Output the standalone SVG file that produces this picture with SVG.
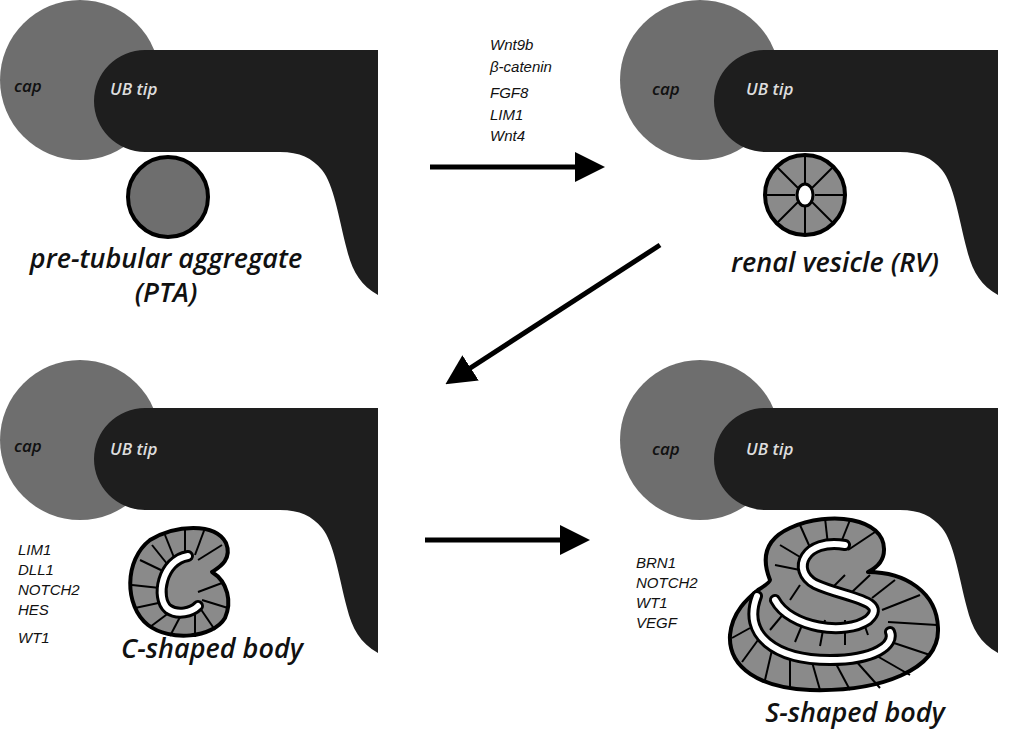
<svg xmlns="http://www.w3.org/2000/svg" width="1024" height="734" viewBox="0 0 1024 734">
<defs>
<style>
.cap{fill:#6e6e6e}
.ub{fill:#1e1e1e}
.t{font-family:"Liberation Sans",Arial,sans-serif;font-style:italic}
.h{font-family:"Open Sans","Liberation Sans",sans-serif;font-style:italic;font-weight:600}
.capt{font-size:17px;fill:#111}
.ubt{font-size:17px;fill:#ddd}
.big{font-size:27px;fill:#111;text-anchor:middle}
.gene{font-size:15px;fill:#111}
.body{fill:#8a8a8a;stroke:#000;stroke-width:4;stroke-linejoin:round}
.sp{stroke:#000;stroke-width:2;fill:none}
.lo{fill:none;stroke:#000;stroke-width:12;stroke-linecap:round}
.li{fill:none;stroke:#fff;stroke-width:6;stroke-linecap:round}
.arr{stroke:#000;stroke-width:5;fill:none}
</style>
<path id="ub" d="M145,50 L378,50 L378,295 C360,285 352,270 347,250 C338,215 334,185 322,170 C312,158 300,152 280,152 L145,152 A51 51 0 0 1 145,50 Z"/>
<marker id="ah" markerWidth="6" markerHeight="6" refX="3" refY="3" orient="auto" markerUnits="strokeWidth"><path d="M0,0 L6,3 L0,6 Z" fill="#000"/></marker>
</defs>
<g id="panel-pta">
<circle class="cap" cx="80" cy="80" r="80"/>
<use href="#ub" class="ub"/>
<text class="h capt" x="14" y="92">cap</text>
<text class="h ubt" x="110" y="95">UB tip</text>
<circle cx="168" cy="197" r="40" fill="#6e6e6e" stroke="#000" stroke-width="4"/>
<text class="h big" x="166" y="268">pre-tubular aggregate</text>
<text class="h big" x="166" y="302">(PTA)</text>
</g>
<g id="panel-rv">
<circle class="cap" cx="700" cy="80" r="80"/>
<use href="#ub" class="ub" transform="translate(620,0)"/>
<text class="h capt" x="652" y="95">cap</text>
<text class="h ubt" x="746" y="95">UB tip</text>
<circle cx="805" cy="195" r="40" fill="#8a8a8a" stroke="#000" stroke-width="4"/>
<g class="sp">
<line x1="805" y1="155" x2="805" y2="185"/><line x1="805" y1="205" x2="805" y2="235"/>
<line x1="765" y1="195" x2="795" y2="195"/><line x1="815" y1="195" x2="845" y2="195"/>
<line x1="777" y1="167" x2="798" y2="188"/><line x1="833" y1="223" x2="812" y2="202"/>
<line x1="833" y1="167" x2="812" y2="188"/><line x1="777" y1="223" x2="798" y2="202"/>
</g>
<ellipse cx="805" cy="195" rx="8" ry="11" fill="#fff" stroke="#000" stroke-width="3"/>
<text class="h big" x="835" y="272">renal vesicle (RV)</text>
</g>
<g id="panel-c">
<circle class="cap" cx="80" cy="440" r="80"/>
<use href="#ub" class="ub" transform="translate(0,358)"/>
<text class="h capt" x="14" y="452">cap</text>
<text class="h ubt" x="110" y="455">UB tip</text>
<path class="body" d="M150,540 C175,525 215,522 226,543 C233,560 218,568 212,572 C228,582 232,602 225,618 C213,638 170,642 148,625 C124,606 124,560 150,540 Z"/>
<g class="sp">
<line x1="140" y1="560" x2="165" y2="572"/><line x1="132" y1="585" x2="160" y2="588"/><line x1="135" y1="608" x2="163" y2="602"/>
<line x1="150" y1="627" x2="170" y2="612"/><line x1="170" y1="636" x2="180" y2="617"/><line x1="195" y1="637" x2="195" y2="615"/>
<line x1="215" y1="630" x2="200" y2="608"/><line x1="228" y1="608" x2="202" y2="600"/><line x1="222" y1="583" x2="198" y2="592"/>
<line x1="165" y1="535" x2="175" y2="560"/><line x1="185" y1="528" x2="185" y2="556"/><line x1="205" y1="528" x2="195" y2="555"/>
<line x1="222" y1="545" x2="198" y2="560"/><line x1="152" y1="545" x2="168" y2="565"/>
</g>
<path class="lo" d="M188,556 C162,560 155,598 168,609 C178,616 192,612 198,606"/>
<path class="li" d="M188,556 C162,560 155,598 168,609 C178,616 192,612 198,606"/>
<text class="h big" x="212" y="658">C-shaped body</text>
<text class="t gene" x="18" y="555">LIM1</text>
<text class="t gene" x="18" y="575">DLL1</text>
<text class="t gene" x="18" y="595">NOTCH2</text>
<text class="t gene" x="18" y="615">HES</text>
<text class="t gene" x="18" y="643">WT1</text>
</g>
<g id="panel-s">
<circle class="cap" cx="700" cy="440" r="80"/>
<use href="#ub" class="ub" transform="translate(620,358)"/>
<text class="h capt" x="652" y="455">cap</text>
<text class="h ubt" x="746" y="455">UB tip</text>
<path class="body" d="M790,528 C830,510 885,518 884,550 C884,562 876,568 868,572 C905,572 937,592 938,628 C940,670 880,692 810,690 C760,688 728,668 730,635 C732,612 748,598 758,590 C766,585 770,582 770,580 C760,555 768,538 790,528 Z"/>
<g class="sp">
<line x1="780" y1="545" x2="805" y2="560"/><line x1="775" y1="565" x2="800" y2="570"/>
<line x1="800" y1="525" x2="812" y2="552"/><line x1="825" y1="518" x2="828" y2="545"/><line x1="850" y1="520" x2="840" y2="545"/><line x1="875" y1="532" x2="848" y2="550"/>
<line x1="845" y1="575" x2="830" y2="590"/><line x1="870" y1="575" x2="852" y2="592"/><line x1="895" y1="580" x2="872" y2="598"/><line x1="920" y1="595" x2="882" y2="610"/><line x1="937" y1="625" x2="888" y2="622"/>
<line x1="930" y1="655" x2="885" y2="640"/><line x1="910" y1="675" x2="870" y2="652"/><line x1="880" y1="688" x2="855" y2="660"/>
<line x1="850" y1="690" x2="835" y2="662"/><line x1="820" y1="690" x2="812" y2="662"/><line x1="790" y1="688" x2="790" y2="657"/><line x1="765" y1="680" x2="772" y2="650"/><line x1="742" y1="662" x2="758" y2="640"/><line x1="732" y1="638" x2="750" y2="628"/>
<line x1="770" y1="630" x2="785" y2="612"/><line x1="795" y1="642" x2="805" y2="618"/><line x1="820" y1="646" x2="825" y2="620"/><line x1="845" y1="645" x2="845" y2="620"/><line x1="868" y1="635" x2="862" y2="618"/>
<line x1="790" y1="600" x2="800" y2="585"/>
</g>
<path class="lo" d="M845,545 C805,538 790,570 815,584 C845,598 890,600 868,620 C845,636 790,628 775,600"/>
<path class="li" d="M845,545 C805,538 790,570 815,584 C845,598 890,600 868,620 C845,636 790,628 775,600"/>
<path class="lo" d="M757,596 C742,635 775,660 830,660 C875,660 895,645 890,632"/>
<path class="li" d="M757,596 C742,635 775,660 830,660 C875,660 895,645 890,632"/>
<text class="h big" x="855" y="722">S-shaped body</text>
<text class="t gene" x="636" y="568">BRN1</text>
<text class="t gene" x="636" y="588">NOTCH2</text>
<text class="t gene" x="636" y="608">WT1</text>
<text class="t gene" x="636" y="628">VEGF</text>
</g>
<g id="genes-top">
<text class="t gene" x="490" y="50">Wnt9b</text>
<text class="t gene" x="490" y="72">β-catenin</text>
<text class="t gene" x="490" y="98">FGF8</text>
<text class="t gene" x="490" y="120">LIM1</text>
<text class="t gene" x="490" y="141">Wnt4</text>
</g>
<g id="connectors">
<line class="arr" x1="430" y1="167" x2="590" y2="167" marker-end="url(#ah)"/>
<line class="arr" x1="660" y1="245" x2="458" y2="376" marker-end="url(#ah)"/>
<line class="arr" x1="425" y1="540" x2="575" y2="540" marker-end="url(#ah)"/>
</g>
</svg>
